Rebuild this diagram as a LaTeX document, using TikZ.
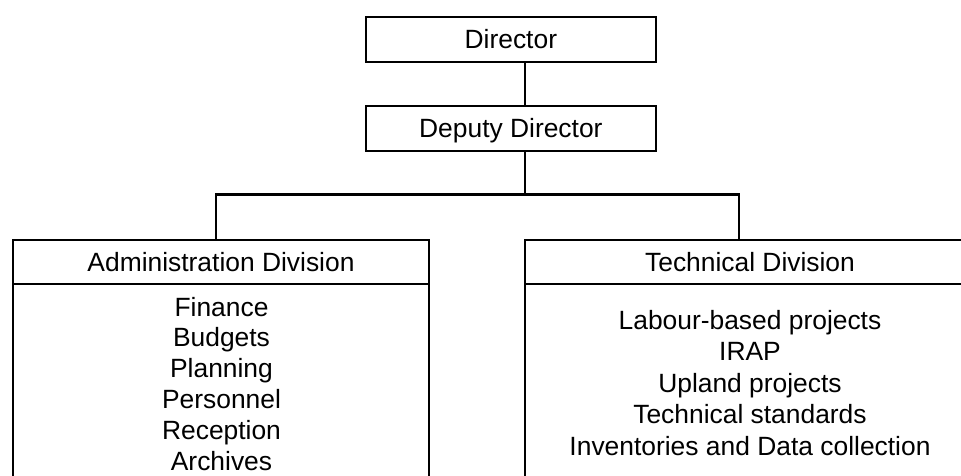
\documentclass[tikz,border=0pt]{standalone}
\usepackage{fontspec}
\setmainfont{Liberation Sans}
\begin{document}
\begin{tikzpicture}[x=1pt,y=-1pt,line width=2.2pt,
  every node/.style={font=\fontsize{26.4}{30}\selectfont},
  box/.style={draw,rectangle,inner sep=0pt,outer sep=0pt,text height=18.9pt,text depth=0pt},
  item/.style={anchor=base,inner sep=0pt,outer sep=0pt}]
\useasboundingbox (0,0) rectangle (961,475);
\clip (0,0) rectangle (961,475);
\node[box,minimum width=290.3pt,minimum height=45pt] (director) at (510.85,39.2) {Director};
\node[box,minimum width=290.3pt,minimum height=44.7pt] (deputy) at (510.85,128.35) {Deputy Director};
\node[box,minimum width=416.6pt,minimum height=43.7pt] (admin) at (221,261.85) {Administration Division};
\node[box,minimum width=416.6pt,minimum height=230pt,anchor=north] (adminbody) at (admin.south) {};
\node[box,minimum width=450.6pt,minimum height=43.7pt] (tech) at (750,261.85) {Technical Division};
\node[box,minimum width=450.6pt,minimum height=230pt,anchor=north] (techbody) at (tech.south) {};
\coordinate (bus) at (525,194.5);
\draw ([xshift=14.15pt]director.south) -- ([xshift=14.15pt]deputy.north);
\draw ([xshift=14.15pt]deputy.south) -- (bus);
\draw ([xshift=-5pt]admin.north) |- (bus) -| ([xshift=-10.7pt]tech.north);
\foreach \t [count=\i from 0] in {Finance,Budgets,Planning,Personnel,Reception,Archives}
  \node[item] (a\i) at (221.5,{316.2+30.76*\i}) {\t};
\foreach \t [count=\i from 0] in {Labour-based projects,IRAP,Upland projects,Technical standards,Inventories and Data collection}
  \node[item] (t\i) at (750,{329.6+31.35*\i}) {\t};
\end{tikzpicture}
\end{document}
